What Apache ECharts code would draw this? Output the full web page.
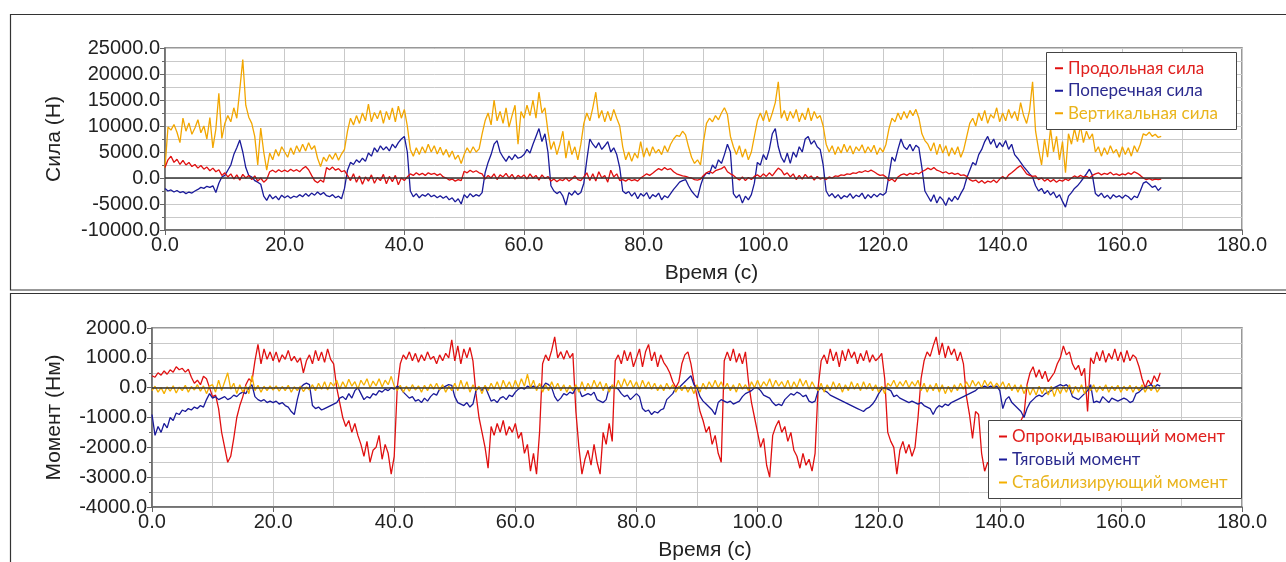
<!DOCTYPE html>
<html>
<head>
<meta charset="utf-8">
<script src="https://cdn.jsdelivr.net/npm/echarts/dist/echarts.min.js"></script>
<style>
html,body{margin:0;padding:0;background:#fff;}
#chart{width:1286px;height:562px;}
</style>
</head>
<body>
<div id="chart"></div>
<script>
// sampling interval of every series below (seconds)
const DT = 0.5;

// ---- top panel: forces, kN (converted to N when plotted) ----
const fLong = [ // Продольная сила
2.0,3.5,4.2,3.0,3.6,2.6,3.4,2.5,3.0,2.2,2.6,1.9,2.4,1.7,2.1,1.4,1.9,1.2,1.6,0.5,
1.0,0.2,0.8,-0.2,0.6,-0.4,0.7,0.0,0.5,-0.3,0.4,-0.6,0.0,-0.8,-0.3,1.2,1.5,1.1,1.6,1.2,
1.5,1.2,1.7,1.3,1.6,1.2,1.8,2.2,1.6,0.5,-0.5,-0.9,-0.4,-0.8,2.0,1.6,2.1,1.5,1.8,1.2,
1.4,0.5,-0.5,0.8,-0.8,0.4,-1.2,0.2,-0.6,0.6,-1.0,0.1,-0.5,0.7,-1.1,0.3,-0.7,0.5,-1.3,0.0,
-0.5,0.2,0.8,0.5,1.0,0.6,0.9,0.5,1.0,0.7,0.9,0.5,0.8,0.2,0.0,-0.4,-0.2,-0.6,-0.3,-0.5,
1.3,1.0,1.5,1.1,1.4,1.0,0.8,-0.2,0.5,0.0,0.8,-0.3,0.6,0.2,0.9,0.0,0.7,-0.2,0.5,0.1,
0.6,-0.2,0.8,0.0,0.5,-0.4,0.6,-0.1,0.3,-0.6,-0.2,-0.7,-0.3,-0.5,0.0,-0.6,-0.2,0.4,-0.3,-0.5,
0.2,1.0,-0.5,0.8,-0.6,1.2,0.0,0.5,-0.8,1.5,0.2,0.8,-0.5,-0.3,-0.6,-0.2,-0.5,-0.3,-0.6,0.0,
0.4,0.8,0.5,0.9,1.4,1.8,1.5,2.0,1.6,1.8,1.2,0.8,0.6,0.4,0.3,0.1,0.0,-0.3,-0.4,-0.2,
0.5,1.0,1.3,0.9,1.4,1.6,1.8,2.2,1.2,0.8,0.5,0.0,-0.4,0.2,-0.5,0.1,-0.3,0.3,0.6,0.2,
0.8,0.3,1.0,0.4,1.2,1.9,1.5,0.6,1.0,0.2,0.8,-0.3,0.5,-0.2,0.7,0.0,0.4,-0.4,0.3,-0.2,
0.0,-0.3,0.2,0.0,0.4,0.3,0.6,0.5,0.8,0.7,1.0,0.9,1.2,1.1,1.4,1.2,1.5,1.2,0.8,0.5,
0.6,0.2,-0.5,-0.2,-0.7,0.2,0.6,0.8,0.5,0.9,0.7,1.0,0.8,1.2,1.5,1.9,1.6,2.0,1.5,1.3,
1.0,1.2,0.8,1.0,0.7,0.9,0.5,0.6,0.3,-0.3,-0.6,-0.4,-0.9,-0.5,-1.0,-0.6,-0.8,-0.4,-0.9,-0.2,
0.3,-0.2,0.6,1.0,1.5,2.0,2.4,1.6,0.8,0.5,0.3,0.4,-0.3,0.0,-0.6,-0.2,-0.7,-0.3,-0.8,-0.4,
-0.6,-0.2,-0.5,0.0,0.4,0.1,0.5,0.2,0.3,0.0,0.5,0.8,1.0,0.6,0.9,0.7,1.1,0.6,0.8,0.5,
0.8,0.6,1.0,0.7,1.2,0.9,0.5,0.0,-0.3,-0.1,-0.4,-0.2,-0.3,-0.2];

const fLat = [ // Поперечная сила
-2.0,-2.5,-2.3,-2.7,-2.4,-2.8,-2.6,-3.0,-2.7,-2.9,-2.5,-2.2,-1.8,-2.0,-1.6,-1.8,-1.5,-2.8,-1.0,0.2,
0.5,1.5,2.5,4.5,5.8,7.3,5.0,2.0,0.5,0.2,-0.5,-0.8,-1.2,-3.5,-4.3,-3.2,-4.0,-3.5,-4.2,-3.3,
-3.8,-3.4,-3.9,-3.5,-3.7,-3.2,-3.6,-3.0,-3.5,-2.9,-3.3,-2.7,-3.2,-2.8,-3.4,-3.6,-3.2,-3.8,-3.5,-4.0,
-2.0,1.5,3.0,2.6,3.5,3.0,3.8,3.2,4.8,4.2,5.8,5.0,6.2,5.4,6.0,5.2,6.5,5.8,6.8,7.5,
8.0,5.0,-2.5,-3.6,-3.0,-3.8,-3.2,-3.5,-3.0,-3.6,-3.3,-3.8,-3.4,-3.9,-3.5,-4.2,-3.8,-4.6,-4.0,-5.0,
-3.2,-3.8,-3.0,-3.6,-3.2,-3.5,-2.8,1.0,3.0,4.5,6.5,7.2,5.0,4.0,3.2,4.2,3.5,4.5,3.8,4.0,
4.5,5.5,4.8,6.5,8.0,9.5,7.0,8.5,5.0,-1.5,-2.5,-3.0,-2.6,-3.5,-5.2,-2.8,-3.3,-2.5,-3.2,-2.8,
-1.0,3.5,7.5,6.5,5.8,6.8,5.5,6.2,7.0,5.0,5.8,4.5,2.0,-2.5,-3.0,-2.6,-3.5,-2.8,-4.0,-3.0,
-3.5,-2.8,-4.0,-3.2,-3.6,-2.9,-4.2,-3.4,-3.8,-3.0,-2.2,-1.5,-0.8,-0.5,-0.3,-1.5,-2.5,-3.2,-3.8,-1.5,
0.2,1.0,0.8,2.5,1.8,3.5,2.8,4.5,6.5,5.0,-3.0,-3.8,-3.2,-4.8,-3.5,-4.2,-3.2,-1.0,3.0,2.5,
4.5,3.5,5.5,8.5,9.5,6.0,4.0,3.0,4.8,2.8,5.0,4.0,6.0,5.0,7.5,8.0,6.5,7.2,6.0,5.5,
2.5,-2.5,-3.5,-3.0,-3.8,-3.2,-4.0,-3.4,-3.7,-3.0,-3.9,-3.3,-3.6,-2.9,-4.0,-3.2,-3.8,-3.1,-3.6,-3.0,
-3.3,-2.8,0.5,4.0,3.2,5.5,7.5,6.0,5.5,6.5,5.2,6.3,5.8,2.0,-2.5,-3.5,-4.5,-3.2,-4.8,-3.6,
-4.2,-5.3,-3.8,-4.5,-3.5,-4.2,-3.0,-2.0,0.0,1.5,3.0,2.5,4.5,5.5,7.0,8.0,6.5,7.5,5.8,6.8,
6.0,7.2,5.5,6.5,4.5,3.8,3.0,2.2,1.5,0.8,0.2,-1.5,-2.5,-2.0,-3.0,-2.4,-3.3,-2.7,-3.8,-3.2,
-4.5,-5.6,-3.5,-2.8,-2.0,-1.5,-0.8,0.0,0.8,1.7,0.5,-3.0,-3.5,-2.9,-3.8,-3.3,-4.0,-3.2,-3.7,-3.4,
-3.9,-3.3,-3.6,-4.2,-3.5,-3.8,-2.5,-1.0,-0.7,-1.2,-1.8,-1.5,-2.4,-1.8];

const fVert = [ // Вертикальная сила
2.0,9.8,9.2,10.3,8.8,6.8,11.5,9.0,10.6,8.4,9.6,11.2,8.7,10.0,7.5,11.6,5.8,9.4,16.3,7.6,
10.5,12.0,10.8,13.5,11.5,17.0,22.8,14.0,11.7,10.5,8.0,2.5,9.6,5.0,1.5,4.8,3.5,5.5,4.2,6.0,
5.0,4.0,5.8,4.5,6.2,5.0,6.5,5.2,6.8,5.5,6.2,3.8,2.2,4.0,3.2,4.5,3.6,4.8,3.4,4.6,
5.5,9.0,11.5,10.2,12.0,10.5,12.5,11.0,14.2,10.8,12.6,11.4,13.0,10.5,12.8,11.2,13.5,10.8,13.8,11.5,
13.2,10.0,5.5,4.2,5.8,4.5,6.0,4.8,6.5,5.0,6.2,4.6,5.9,4.4,5.5,4.0,5.2,3.6,4.4,2.8,
4.5,5.8,4.8,6.0,5.0,5.6,8.5,11.0,12.5,10.2,15.0,11.0,12.8,10.5,13.5,9.8,12.0,14.0,6.5,12.8,
11.5,14.0,12.0,15.0,11.5,16.5,12.5,13.5,9.0,5.5,7.0,4.5,6.5,9.0,3.8,7.2,4.5,6.0,3.5,6.5,
10.5,12.5,11.0,13.5,16.5,11.5,13.0,10.8,12.8,11.0,13.2,11.5,10.0,6.0,3.5,5.0,3.2,4.8,3.8,7.0,
4.0,5.8,4.2,6.0,4.8,5.5,4.5,6.2,5.0,6.5,7.5,8.2,8.0,9.0,8.3,6.0,4.0,2.8,3.5,2.5,
7.0,10.5,11.5,10.8,12.0,11.2,12.5,13.5,12.2,8.0,6.0,4.5,6.2,4.0,5.6,3.5,5.0,8.0,11.0,12.5,
11.0,13.0,10.8,12.5,14.5,18.5,11.5,13.0,11.0,12.8,11.5,13.2,10.8,12.5,11.2,13.5,11.0,12.8,11.5,12.0,
10.0,6.5,5.0,6.2,4.5,6.0,4.8,6.5,5.0,6.2,4.6,6.0,5.2,6.4,4.8,6.0,5.0,6.3,4.5,5.8,
5.0,6.5,9.5,11.5,10.8,12.5,11.2,12.8,11.5,13.0,12.0,13.2,11.5,8.5,7.2,6.5,5.2,6.8,4.5,6.5,
4.8,6.2,4.2,5.8,4.5,6.0,4.0,5.5,8.0,10.5,11.5,10.0,12.5,11.0,13.0,10.5,12.2,11.5,13.5,10.8,
12.5,11.0,13.2,11.5,12.8,11.0,14.5,12.0,10.5,13.0,18.5,9.0,5.5,2.5,7.5,4.0,9.5,5.0,8.0,3.5,
7.0,1.0,8.5,6.5,9.5,7.0,10.0,6.8,9.0,7.5,8.5,5.0,6.0,4.2,5.8,4.5,6.2,4.8,5.5,4.0,
6.0,4.5,5.8,4.2,6.2,5.0,6.5,8.5,8.2,8.8,8.0,8.4,7.8,8.0];

// ---- bottom panel: moments, Nm ----
const mOver = [ // Опрокидывающий момент
400,350,500,420,560,450,600,520,700,600,650,520,620,350,150,250,100,380,300,0,
-300,-250,-700,-1500,-2000,-2500,-2300,-1700,-1000,-600,-300,100,300,200,900,1450,800,1300,950,1200,
900,1200,850,1100,950,1250,900,1050,850,1000,500,900,1100,800,1250,900,1200,850,1300,950,
800,0,-500,-1000,-1300,-1100,-1500,-1200,-1600,-1900,-2300,-1800,-2500,-2100,-2000,-1600,-2400,-1900,-2200,-2900,
-2300,0,800,1100,950,1200,900,1150,850,1100,900,1200,950,1050,800,1100,900,1150,1000,1600,
900,1400,800,1300,1000,1350,900,-200,-1000,-1500,-2000,-2700,-1300,-1600,-1200,-1500,-1100,-1600,-1300,-1500,
-1200,-1700,-1500,-2200,-1900,-2800,-2200,-2900,-1500,800,1100,900,1250,1700,1000,1200,950,1250,1000,1150,
-800,-2000,-2900,-2400,-2100,-2600,-1900,-2500,-2900,-1500,-1900,-1200,-1800,900,1100,800,1250,900,1200,700,
1000,1300,700,1200,1450,900,1200,700,1100,850,700,500,200,0,200,800,1100,1200,800,200,
-300,-800,-1100,-1500,-1300,-1900,-1600,-2200,-2500,900,1200,900,1300,850,1150,800,1200,200,-500,-1000,
-1500,-2000,-1700,-2600,-3000,-1600,-1300,-1100,-1500,-1300,-1800,-1500,-2100,-2300,-2700,-2200,-2600,-2400,-2800,-2200,
0,900,1100,800,1300,900,1200,700,1250,900,1300,1000,1200,800,1150,900,1250,850,1100,900,
1000,1150,300,-1500,-1800,-2000,-2900,-2100,-1800,-2200,-1900,-2300,-2000,-1000,300,900,1200,1050,1400,1700,
1100,1500,1000,1400,1100,1300,900,1200,800,-300,-900,-1700,-800,-900,-2200,-2800,-2500,-2700,-2300,-2000,
-2200,-1800,-2000,-1600,-1700,-1400,-1500,-1100,-900,100,500,700,350,600,300,550,200,350,500,800,
1000,1400,1100,1200,800,600,750,400,650,-800,1000,800,1200,900,1250,850,1150,950,1300,900,
1200,850,1250,900,1100,1000,700,300,0,250,100,400,200,500];

const mTrac = [ // Тяговый момент
-900,-1600,-1300,-1500,-1200,-1350,-1000,-1100,-850,-900,-750,-800,-700,-750,-650,-700,-600,-650,-400,-200,
-350,-300,-400,-350,-300,-400,-350,-250,-300,-200,-150,-200,0,100,-300,-400,-450,-400,-500,-450,
-500,-450,-550,-500,-600,-650,-800,-900,-400,0,100,150,100,-600,-700,-650,-750,-700,-650,-600,
-550,-500,-350,-300,-400,-200,-350,-100,0,-200,-400,-300,-350,-200,-250,-100,-150,-50,-100,0,
-50,50,0,-150,-250,-350,-300,-450,-400,-500,-350,-450,-300,-200,-250,-50,0,50,100,80,
-300,-500,-550,-600,-500,-650,-550,-100,0,-100,50,-200,-450,-400,-500,-350,-300,-400,-250,-300,
-150,-50,0,-50,50,0,50,0,100,0,150,100,0,-300,-450,-350,-200,-250,-150,-200,
0,-50,-300,-250,-200,-250,-150,-400,-450,-500,-400,0,50,0,-50,-200,-300,-250,-400,-300,
-200,-300,-700,-800,-750,-900,-800,-850,-750,-700,-400,-300,-200,0,0,100,200,300,400,100,
0,-300,-450,-550,-650,-750,-900,-500,-400,-450,-500,-450,-550,-500,-450,-300,-200,-150,-100,0,
0,-100,-250,-300,-350,-500,-600,-550,-600,-400,-300,-200,-250,-150,-200,-300,-250,-450,-500,-450,
-100,0,-100,-150,-250,-300,-350,-400,-450,-500,-550,-600,-650,-700,-750,-800,-700,-650,-550,-400,
-200,-50,0,-50,-100,-300,-250,-350,-400,-450,-500,-450,-500,-550,-500,-600,-650,-700,-900,-700,
-600,-650,-550,-600,-500,-450,-400,-350,-300,-250,-200,-150,-100,0,0,50,0,50,0,50,
-100,-700,-400,-300,-500,-600,-700,-800,-1000,-700,-500,-400,-300,-250,-300,-200,-150,-100,0,50,
100,50,100,0,-300,-350,-400,-300,-200,-100,100,-500,-450,-500,-300,-400,-500,-350,-400,-450,
-400,-350,-400,-500,-450,-200,-150,-50,0,50,100,0,100,50];

const mStab = [ // Стабилизирующий момент
-100,50,-150,0,-200,30,-120,60,-180,20,-100,80,-150,40,-80,100,-120,60,-200,50,
100,-150,250,-100,200,500,-50,150,-200,100,-150,50,-200,400,-100,80,-150,50,-100,60,
-80,60,-120,40,-100,80,-150,30,-100,50,-130,20,-80,100,-100,150,-50,200,-80,180,
50,250,-50,200,0,280,50,200,-50,250,80,300,0,220,60,300,20,250,100,380,
50,-100,80,-150,50,-120,100,-80,60,-150,80,-100,120,-50,150,-80,100,-150,50,-100,
150,-100,250,-50,200,-150,100,-100,50,-200,80,-100,150,-50,200,-80,250,0,200,-50,
250,0,300,50,450,0,250,-100,150,-150,100,-100,200,-50,150,-100,100,-150,80,-100,
100,-150,200,-100,150,-50,250,0,200,-100,150,-150,100,-50,250,0,300,50,250,0,
200,-50,250,0,200,-50,150,-100,100,-100,150,-50,100,-150,50,-100,80,-150,50,-200,
100,-150,150,-50,200,0,250,0,200,-50,150,-100,100,-150,150,-50,100,-100,200,0,
250,0,200,50,300,0,250,50,200,0,250,-50,200,0,300,50,250,-50,200,0,
-100,150,-150,100,-100,200,-50,150,-150,100,-100,200,-50,150,-100,200,-50,150,-100,100,
-150,50,-200,150,50,250,0,200,50,250,0,200,50,250,-100,150,-150,100,-100,150,
-150,100,-200,50,-150,100,-100,150,-50,200,0,250,50,200,0,250,50,200,0,150,
0,200,-50,150,-100,100,-150,100,-200,50,-250,0,-250,50,-200,0,-250,50,-300,0,
-200,50,-150,100,-200,50,-150,100,-200,50,-100,100,-150,50,-100,100,-150,50,-100,80,
-150,50,-100,80,-150,50,-100,100,-150,50,-100,80,-150,0];

// axis ticks
const xTicks = {min: 0, max: 180, step: 20};
const forceTicks = {min: -10000, max: 25000, step: 5000};
const momentTicks = {min: -4000, max: 2000, step: 1000};

const names = {
  fLong: 'Продольная сила', fLat: 'Поперечная сила', fVert: 'Вертикальная сила',
  mOver: 'Опрокидывающий момент', mTrac: 'Тяговый момент', mStab: 'Стабилизирующий момент'
};

const C_RED = '#e01010', C_BLUE = '#1a1a9a', C_YEL = '#f2a600', C_YEL2 = '#f5b000';
const LAB_FONT = '"Liberation Sans", Arial, sans-serif';
const LEG_FONT = 'Lato, "Open Sans", sans-serif';

function pts(arr, scale) { return arr.map((v, i) => [i * DT, v * scale]); }

function xAxis(grid) {
  return {
    type: 'value', gridIndex: grid, min: xTicks.min, max: xTicks.max, interval: xTicks.step,
    name: 'Время (с)', nameLocation: 'middle', nameGap: 33,
    nameTextStyle: {fontSize: 21, color: '#222', fontFamily: LAB_FONT, padding: [0, 0, 0, 16]},
    axisLine: {show: true, onZero: false, lineStyle: {color: '#666', width: 1.5}},
    axisTick: {show: true, length: 5, lineStyle: {color: '#666'}},
    axisLabel: {fontSize: 20, color: '#222', fontFamily: LAB_FONT, margin: 5, formatter: v => v.toFixed(1)},
    splitLine: {show: true, lineStyle: {color: '#c9c9c9', width: 1}},
    minorTick: {show: false, splitNumber: 2},
    minorSplitLine: {show: true, lineStyle: {color: '#c9c9c9', width: 1}}
  };
}
function yAxis(grid, t, name, gap) {
  return {
    type: 'value', gridIndex: grid, min: t.min, max: t.max, interval: t.step,
    name: name, nameLocation: 'middle', nameGap: gap, nameRotate: 90,
    nameTextStyle: {fontSize: 21, color: '#222', fontFamily: LAB_FONT},
    axisLine: {show: true, lineStyle: {color: '#666', width: 1.5}},
    axisTick: {show: true, length: 5, lineStyle: {color: '#666'}},
    minorTick: {show: true, splitNumber: 2, length: 3, lineStyle: {color: '#666'}},
    axisLabel: {fontSize: 20, color: '#222', fontFamily: LAB_FONT, margin: 5, formatter: v => v.toFixed(1)},
    splitLine: {show: true, lineStyle: {color: '#c9c9c9', width: 1}},
    minorSplitLine: {show: true, lineStyle: {color: '#c9c9c9', width: 1}}
  };
}
function line(name, arr, scale, grid, color, z, zero) {
  const s = {
    name: name, type: 'line', xAxisIndex: grid, yAxisIndex: grid, data: pts(arr, scale),
    showSymbol: false, symbol: 'none', color: color, z: z,
    lineStyle: {width: 1.3, color: color}, emphasis: {disabled: true}
  };
  if (zero) s.markLine = {silent: true, symbol: 'none', label: {show: false},
    lineStyle: {color: '#333', width: 1.5, type: 'solid'}, data: [{yAxis: 0}]};
  return s;
}
function legItem(n, c) { return {name: n, textStyle: {color: c}}; }

const chart = echarts.init(document.getElementById('chart'), null, {renderer: 'canvas'});
chart.setOption({
  animation: false,
  backgroundColor: '#fff',
  grid: [
    {left: 165, right: 44, top: 48, height: 182, show: true, borderColor: '#777', borderWidth: 1.5, backgroundColor: 'transparent'},
    {left: 152, right: 44, top: 328, height: 182, show: true, borderColor: '#777', borderWidth: 1.5, backgroundColor: 'transparent'}
  ],
  xAxis: [xAxis(0), xAxis(1)],
  yAxis: [yAxis(0, forceTicks, 'Сила (Н)', 100), yAxis(1, momentTicks, 'Момент (Нм)', 87)],
  graphic: [
    {type: 'rect', shape: {x: 10.5, y: 14.5, width: 1290, height: 275.5}, style: {fill: 'none', stroke: '#333', lineWidth: 1.2}, z: 1, silent: true},
    {type: 'rect', shape: {x: 10.5, y: 293.5, width: 1290, height: 290}, style: {fill: 'none', stroke: '#333', lineWidth: 1.2}, z: 1, silent: true},
    {type: 'rect', shape: {x: 1046.5, y: 52.5, width: 190, height: 77}, style: {fill: '#fff', stroke: '#444', lineWidth: 1}, z: 10, silent: true},
    {type: 'rect', shape: {x: 988.5, y: 420.5, width: 253, height: 78}, style: {fill: '#fff', stroke: '#444', lineWidth: 1}, z: 10, silent: true}
  ],
  legend: [
    {orient: 'vertical', left: 1055, top: 57, padding: 0, itemGap: 0, z: 20,
     icon: 'rect', itemWidth: 8, itemHeight: 2, selectedMode: false,
     textStyle: {fontSize: 17, fontFamily: LEG_FONT, lineHeight: 22.5},
     data: [legItem(names.fLong, '#e0201e'), legItem(names.fLat, '#2a2a8e'), legItem(names.fVert, '#e9b41c')]},
    {orient: 'vertical', left: 999, top: 425, padding: 0, itemGap: 0, z: 20,
     icon: 'rect', itemWidth: 8, itemHeight: 2, selectedMode: false,
     textStyle: {fontSize: 17, fontFamily: LEG_FONT, lineHeight: 23},
     data: [legItem(names.mOver, '#e0201e'), legItem(names.mTrac, '#2a2a8e'), legItem(names.mStab, '#e9b41c')]}
  ],
  series: [
    line(names.fVert, fVert, 1000, 0, C_YEL, 2, true),
    line(names.fLat, fLat, 1000, 0, C_BLUE, 3, false),
    line(names.fLong, fLong, 1000, 0, C_RED, 4, false),
    line(names.mOver, mOver, 1, 1, C_RED, 2, true),
    line(names.mTrac, mTrac, 1, 1, C_BLUE, 3, false),
    line(names.mStab, mStab, 1, 1, C_YEL2, 4, false)
  ]
});
</script>
</body>
</html>
